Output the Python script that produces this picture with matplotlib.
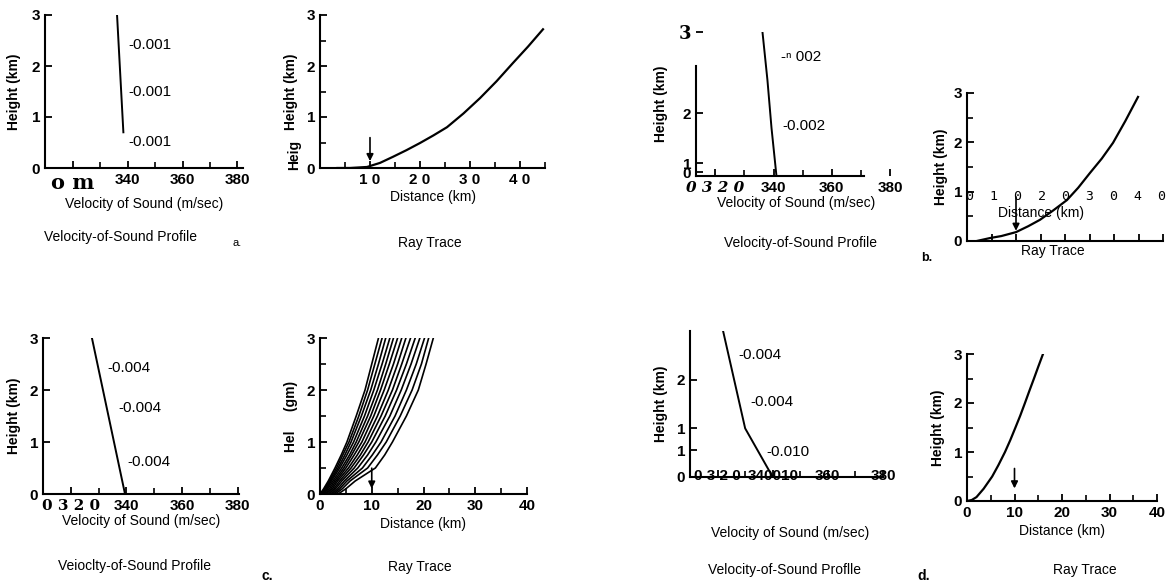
import matplotlib
matplotlib.use("Agg")
import matplotlib.pyplot as plt
from matplotlib.ticker import MultipleLocator

plt.rcParams['font.family'] = ['Liberation Sans', 'DejaVu Sans']

W, H = 1173, 587

# ---- data ----
# a: velocity profile and single ray
a_prof_h = [0.7, 2.0, 3.0]
a_prof_v = [338.5, 337.2, 336.2]
a_grad_labels = ['-0.001', '-0.001', '-0.001']
a_grad_pos = [(340.2, 2.41), (340.2, 1.49), (340.2, 0.51)]
a_ray_x = [3.5, 6.0, 9.4, 12.0, 14.6, 17.3, 20.0, 22.7, 25.4, 28.7, 32.0,
           35.3, 38.6, 41.6, 44.6]
a_ray_h = [0.0, 0.0, 0.02, 0.10, 0.22, 0.35, 0.49, 0.64, 0.80, 1.07, 1.37,
           1.70, 2.06, 2.38, 2.72]

# b: velocity profile and single ray
b_prof_h = [0.0, 1.0, 2.0, 3.0]
b_prof_v = [341.0, 339.3, 337.9, 336.2]
b_grad_labels = ['-\u207f 002', '-0.002']
b_grad_pos = [(342.7, 2.48), (343.0, 1.04)]
b_ray_x = [2.0, 4.7, 7.0, 10.0, 12.5, 14.9, 17.6, 20.4, 22.7, 25.1, 27.5,
           29.8, 32.3, 34.9]
b_ray_h = [0.0, 0.06, 0.10, 0.18, 0.30, 0.43, 0.62, 0.83, 1.08, 1.38, 1.67,
           1.99, 2.43, 2.92]

# c: velocity profile and ray fan
c_prof_h = [0.0, 3.0]
c_prof_v = [339.5, 327.6]
c_grad_labels = ['-0.004', '-0.004', '-0.004']
c_grad_pos = [(333.0, 2.42), (337.0, 1.65), (340.2, 0.62)]
c_fan_h = [0.0, 0.1, 0.25, 0.5, 0.75, 1.0, 1.5, 2.0, 2.5, 3.0]
c_fan_x = [
    [0.0, 0.7, 1.6, 2.9, 4.1, 5.2, 7.0, 8.7, 10.0, 11.3],
    [0.2, 0.9, 1.8, 3.2, 4.4, 5.6, 7.5, 9.2, 10.6, 12.0],
    [0.4, 1.1, 2.0, 3.5, 4.8, 6.0, 8.0, 9.8, 11.3, 12.7],
    [0.6, 1.3, 2.2, 3.8, 5.2, 6.5, 8.6, 10.4, 12.0, 13.5],
    [0.8, 1.5, 2.5, 4.2, 5.7, 7.0, 9.2, 11.1, 12.7, 14.2],
    [1.0, 1.8, 2.8, 4.6, 6.1, 7.5, 9.8, 11.7, 13.4, 15.0],
    [1.2, 2.1, 3.1, 5.0, 6.6, 8.1, 10.4, 12.4, 14.2, 15.8],
    [1.5, 2.4, 3.4, 5.5, 7.2, 8.7, 11.1, 13.2, 15.0, 16.6],
    [1.8, 2.7, 3.8, 6.0, 7.8, 9.3, 11.8, 14.0, 15.8, 17.5],
    [2.1, 3.0, 4.2, 6.6, 8.4, 10.0, 12.6, 14.8, 16.7, 18.4],
    [2.4, 3.4, 4.7, 7.3, 9.2, 10.8, 13.5, 15.7, 17.6, 19.3],
    [2.7, 3.8, 5.2, 8.2, 10.1, 11.8, 14.5, 16.7, 18.6, 20.2],
    [3.0, 4.3, 5.8, 9.2, 11.1, 12.8, 15.5, 17.8, 19.6, 21.0],
    [3.5, 5.0, 6.8, 10.7, 12.5, 14.0, 16.7, 19.0, 20.5, 21.9],
]

# d: two-layer profile and single ray
d_prof_h = [0.0, 1.0, 3.0]
d_prof_v = [340.0, 330.0, 322.0]
d_grad_labels = ['-0.004', '-0.004', '-0.010']
d_grad_pos = [(327.5, 2.5), (331.8, 1.54), (337.6, 0.51)]
d_ray_x = [0.0, 1.0, 2.0, 3.5, 5.3, 6.6, 8.0, 9.1, 10.2, 11.2, 12.2, 13.1,
           14.1, 15.0, 16.0]
d_ray_h = [0.0, 0.02, 0.08, 0.25, 0.5, 0.73, 1.0, 1.24, 1.5, 1.74, 2.0, 2.24,
           2.5, 2.74, 3.0]

arrow_km = 10

fig = plt.figure(figsize=(W / 100, H / 100), dpi=100)


def box(l, t, r, b):
    return [l / W, 1 - b / H, (r - l) / W, (b - t) / H]


def txt(x, y, s, **kw):
    kw.setdefault('ha', 'center')
    kw.setdefault('va', 'center')
    kw.setdefault('fontsize', 10)
    fig.text(x / W, 1 - y / H, s, **kw)


def style(ax):
    for s in ['top', 'right']:
        ax.spines[s].set_visible(False)
    for s in ['left', 'bottom']:
        ax.spines[s].set_linewidth(1.5)
    ax.tick_params(direction='in', length=5, width=1.3, labelsize=11)
    ax.tick_params(which='minor', direction='in', length=4, width=1.2)
    for lab in ax.get_xticklabels() + ax.get_yticklabels():
        lab.set_fontweight('bold')
    ax.patch.set_alpha(0)


def arrow(ax, top, bottom):
    ax.annotate('', xy=(arrow_km, bottom), xytext=(arrow_km, top),
                arrowprops=dict(arrowstyle='-|>', lw=1.2, color='black',
                                mutation_scale=10))


# ---------- a ----------
ax = fig.add_axes(box(45, 15, 243, 168))
ax.plot(a_prof_v, a_prof_h, color='black', lw=1.4)
for s, (x, y) in zip(a_grad_labels, a_grad_pos):
    ax.text(x, y, s, fontsize=11, ha='left', va='center')
ax.set_xlim(310, 382)
ax.set_ylim(0, 3)
ax.set_xticks([320, 340, 360, 380])
ax.set_xticklabels(['o m', '340', '360', '380'])
ax.xaxis.set_minor_locator(MultipleLocator(10))
ax.set_yticks([0, 1, 2, 3])
ax.set_xlabel('Velocity of Sound (m/sec)', fontsize=10, labelpad=3)
ax.set_ylabel('Height (km)', fontsize=10, fontweight='bold', labelpad=8)
style(ax)
ax.get_xticklabels()[0].set_fontfamily('DejaVu Serif')
ax.get_xticklabels()[0].set_fontsize(15)
txt(120, 237, 'Velocity-of-Sound Profile')
txt(237, 243, 'a.', fontsize=8)

ax = fig.add_axes(box(320, 15, 545, 168))
ax.plot(a_ray_x, a_ray_h, color='black', lw=1.6)
arrow(ax, 0.65, 0.08)
ax.set_xlim(0, 45)
ax.set_ylim(0, 3)
ax.set_xticks([10, 20, 30, 40])
ax.set_xticklabels(['1 0', '2 0', '3 0', '4 0'])
ax.xaxis.set_minor_locator(MultipleLocator(5))
ax.set_yticks([0, 1, 2, 3])
ax.yaxis.set_minor_locator(MultipleLocator(0.5))
ax.set_xlabel('Distance (km)', fontsize=10, labelpad=2)
ax.set_ylabel('Height (km)', fontsize=10, fontweight='bold', labelpad=6)
style(ax)
txt(294, 155, 'Heig', fontsize=10, fontweight='bold', rotation=90)
txt(430, 243, 'Ray Trace')

# ---------- b ----------
ax = fig.add_axes(box(696, 32, 896, 176))
ax.plot(b_prof_v, b_prof_h, color='black', lw=1.4)
for s, (x, y) in zip(b_grad_labels, b_grad_pos):
    ax.text(x, y, s, fontsize=11, ha='left', va='center')
ax.set_xlim(313.4, 382)
ax.set_ylim(0, 3)
ax.spines['bottom'].set_bounds(313.4, 371)
ax.spines['left'].set_bounds(0, 2.3)
ax.set_xticks([320, 340, 360, 380])
ax.set_xticklabels(['0 3 2 0', '340', '360', '380'])
ax.xaxis.set_minor_locator(MultipleLocator(10))
ax.set_yticks([0.08, 0.27, 1.31, 3])
ax.set_yticklabels(['0', '1', '2', '3'])
ax.set_xlabel('Velocity of Sound (m/sec)', fontsize=10, labelpad=1)
ax.set_ylabel('Height (km)', fontsize=10, fontweight='bold', labelpad=8)
style(ax)
ax.get_xticklabels()[0].set_fontfamily('DejaVu Serif')
ax.get_xticklabels()[0].set_fontstyle('italic')
ax.get_yticklabels()[3].set_fontfamily('DejaVu Serif')
ax.get_yticklabels()[3].set_fontsize(13)
txt(800, 243, 'Velocity-of-Sound Profile')

ax = fig.add_axes(box(967, 93, 1163, 241))
ax.plot(b_ray_x, b_ray_h, color='black', lw=1.6)
arrow(ax, 0.95, 0.15)
ax.set_xlim(0, 40)
ax.set_ylim(0, 3)
ax.xaxis.set_major_locator(MultipleLocator(5))
ax.set_xticklabels([])
ax.set_yticks([0, 1, 2, 3])
ax.yaxis.set_minor_locator(MultipleLocator(0.5))
ax.set_ylabel('Height (km)', fontsize=10, fontweight='bold', labelpad=4)
style(ax)
txt(1066, 196, '0  1  0  2  0  3  0  4  0', fontsize=9.5,
    family='DejaVu Sans Mono')
txt(1041, 213, 'Distance (km)')
txt(1053, 251, 'Ray Trace')
txt(927, 258, 'b.', fontsize=9, fontweight='bold')

# ---------- c ----------
ax = fig.add_axes(box(43, 338, 239, 494))
ax.plot(c_prof_v, c_prof_h, color='black', lw=1.4)
for s, (x, y) in zip(c_grad_labels, c_grad_pos):
    ax.text(x, y, s, fontsize=11, ha='left', va='center')
ax.set_xlim(310, 380.5)
ax.set_ylim(0, 3)
ax.set_xticks([320, 340, 360, 380])
ax.set_xticklabels(['0 3 2 0', '340', '360', '380'])
ax.xaxis.set_minor_locator(MultipleLocator(10))
ax.set_yticks([0, 1, 2, 3])
ax.set_xlabel('Velocity of Sound (m/sec)', fontsize=10, labelpad=1)
ax.set_ylabel('Height (km)', fontsize=10, fontweight='bold', labelpad=6)
style(ax)
ax.get_xticklabels()[0].set_fontfamily('DejaVu Serif')
txt(135, 566, 'Veioclty-of-Sound Profile')
txt(267, 576, 'c.', fontsize=10, fontweight='bold')

ax = fig.add_axes(box(320, 338, 527, 494))
for xs in c_fan_x:
    ax.plot(xs, c_fan_h, color='black', lw=1.2)
arrow(ax, 0.55, 0.05)
ax.set_xlim(0, 40)
ax.set_ylim(0, 3)
ax.set_xticks([0, 10, 20, 30, 40])
ax.xaxis.set_minor_locator(MultipleLocator(5))
ax.set_yticks([0, 1, 2, 3])
ax.yaxis.set_minor_locator(MultipleLocator(0.5))
ax.set_xlabel('Distance (km)', fontsize=10, labelpad=3)
ax.set_ylabel('Hel     (gm)', fontsize=10, fontweight='bold', labelpad=6)
style(ax)
txt(420, 567, 'Ray Trace')

# ---------- d ----------
ax = fig.add_axes(box(690, 331, 883, 477))
ax.plot(d_prof_v, d_prof_h, color='black', lw=1.4)
for s, (x, y) in zip(d_grad_labels, d_grad_pos):
    ax.text(x, y, s, fontsize=11, ha='left', va='center')
ax.set_xlim(310, 380)
ax.set_ylim(0, 3)
ax.set_xticks([320, 340, 360, 380])
ax.set_xticklabels(['0 3 2 0', '340010', '360', '380'])
ax.xaxis.set_minor_locator(MultipleLocator(10))
ax.set_yticks([0, 0.55, 1, 2])
ax.set_yticklabels(['0', '1', '1', '2'])
ax.set_ylabel('Height (km)', fontsize=10, fontweight='bold', labelpad=6)
style(ax)
ax.tick_params(axis='x', pad=-6)
txt(790, 533, 'Velocity of Sound (m/sec)')
txt(785, 570, 'Velocity-of-Sound Proflle')
txt(924, 576, 'd.', fontsize=10, fontweight='bold')

ax = fig.add_axes(box(967, 354, 1157, 501))
ax.plot(d_ray_x, d_ray_h, color='black', lw=1.6)
arrow(ax, 0.72, 0.2)
ax.set_xlim(0, 40)
ax.set_ylim(0, 3)
ax.set_xticks([0, 10, 20, 30, 40])
ax.xaxis.set_minor_locator(MultipleLocator(5))
ax.set_yticks([0, 1, 2, 3])
ax.yaxis.set_minor_locator(MultipleLocator(0.5))
ax.set_xlabel('Distance (km)', fontsize=10, labelpad=3)
ax.set_ylabel('Height (km)', fontsize=10, fontweight='bold', labelpad=6)
style(ax)
txt(1085, 570, 'Ray Trace')

fig.savefig('out.png', dpi=100)
